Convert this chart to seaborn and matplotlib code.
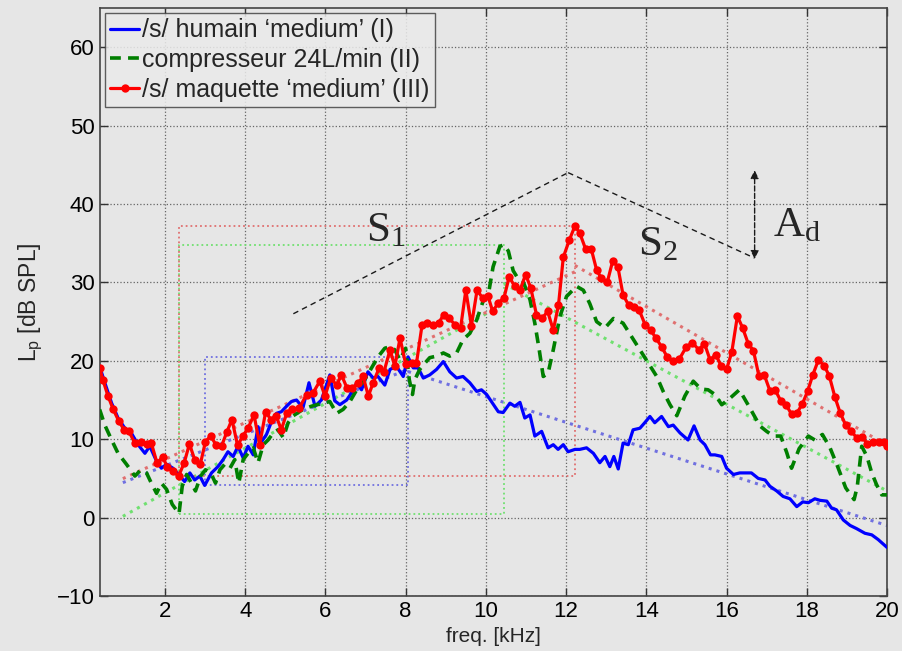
import numpy as np
import pandas as pd
import matplotlib
matplotlib.use("Agg")
import matplotlib.pyplot as plt
import seaborn as sns

sns.set_theme(style="whitegrid")
plt.rcParams["font.family"] = ["Liberation Sans", "DejaVu Sans"]

# ------------------------------
# Data (freq in kHz, level in dB SPL)
# ------------------------------
red_freq = [0.37, 0.45, 0.58, 0.71, 0.85, 0.98, 1.10, 1.25, 1.39, 1.54,
            1.66, 1.80, 1.94, 2.06, 2.20, 2.34, 2.48, 2.61, 2.74, 2.88,
            3.01, 3.14, 3.27, 3.41, 3.54, 3.67, 3.81, 3.94, 4.07, 4.22,
            4.36, 4.51, 4.64, 4.77, 4.90, 5.04, 5.17, 5.35, 5.53, 5.69,
            5.86, 5.99, 6.13, 6.28, 6.40, 6.54, 6.67, 6.82, 6.94, 7.07,
            7.19, 7.34, 7.46, 7.61, 7.73, 7.86, 8.00, 8.15, 8.27, 8.41,
            8.54, 8.69, 8.82, 8.95, 9.09, 9.23, 9.37, 9.50, 9.64, 9.78,
            9.92, 10.05, 10.17, 10.31, 10.45, 10.58, 10.72, 10.85, 10.99, 11.12,
            11.26, 11.40, 11.54, 11.68, 11.81, 11.93, 12.08, 12.22, 12.34, 12.49,
            12.63, 12.76, 12.88, 13.03, 13.16, 13.29, 13.42, 13.56, 13.69, 13.82,
            13.97, 14.11, 14.24, 14.38, 14.52, 14.66, 14.82, 15.00, 15.15, 15.31,
            15.45, 15.59, 15.73, 15.86, 16.00, 16.13, 16.27, 16.40, 16.54, 16.67,
            16.81, 16.94, 17.08, 17.21, 17.35, 17.48, 17.62, 17.75, 17.89, 18.02,
            18.15, 18.29, 18.43, 18.56, 18.70, 18.83, 18.97, 19.10, 19.24, 19.38,
            19.51, 19.66, 19.79, 19.92, 20.0]
red_db = [19.1, 17.6, 15.5, 13.8, 12.3, 11.2, 11.0, 9.5, 9.7, 9.4,
          9.5, 7.0, 7.7, 6.5, 5.9, 5.3, 7.0, 9.4, 7.4, 6.8,
          9.7, 10.4, 9.3, 9.1, 10.9, 12.5, 9.2, 10.4, 11.4, 13.1,
          9.3, 13.5, 12.5, 13.0, 11.2, 13.4, 13.8, 14.0, 15.7, 15.9,
          17.4, 15.5, 17.8, 16.9, 18.2, 16.5, 16.5, 17.2, 18.0, 15.5,
          17.2, 19.1, 18.6, 21.4, 19.3, 22.9, 19.6, 19.7, 19.7, 24.6,
          24.8, 24.6, 24.8, 25.9, 25.4, 24.6, 24.2, 29.0, 24.5, 29.0,
          28.0, 28.3, 26.3, 27.4, 28.0, 30.7, 29.5, 29.0, 31.0, 29.3,
          25.9, 25.4, 26.3, 23.9, 27.1, 33.2, 35.4, 37.2, 36.3, 34.2,
          34.2, 31.6, 30.5, 30.1, 32.7, 32.0, 28.4, 27.1, 26.9, 26.5,
          24.6, 23.9, 22.9, 21.8, 20.5, 20.0, 20.2, 21.8, 22.3, 21.4,
          22.2, 20.1, 20.8, 19.4, 18.9, 21.1, 25.7, 24.2, 22.2, 21.3,
          18.0, 18.2, 16.2, 16.3, 14.9, 14.4, 13.2, 13.3, 14.5, 16.1,
          18.2, 20.1, 19.4, 18.1, 15.4, 13.4, 11.8, 11.1, 10.2, 10.3,
          9.4, 9.7, 9.6, 9.7, 9.1]

blue_freq = [0.37, 0.50, 0.67, 0.83, 1.00, 1.16, 1.33, 1.50, 1.62, 1.79,
             1.91, 2.04, 2.20, 2.37, 2.49, 2.62, 2.74, 2.87, 2.99, 3.16,
             3.32, 3.45, 3.57, 3.70, 3.82, 3.95, 4.07, 4.20, 4.32, 4.41,
             4.53, 4.66, 4.78, 4.90, 5.03, 5.15, 5.28, 5.44, 5.59, 5.74,
             5.90, 6.11, 6.23, 6.36, 6.53, 6.65, 6.78, 6.90, 7.06, 7.19,
             7.31, 7.48, 7.61, 7.77, 7.94, 8.06, 8.19, 8.31, 8.44, 8.60,
             8.77, 8.94, 9.10, 9.27, 9.43, 9.60, 9.77, 9.89, 10.02, 10.14,
             10.31, 10.43, 10.60, 10.72, 10.85, 10.97, 11.10, 11.22, 11.39, 11.55,
             11.68, 11.80, 11.93, 12.05, 12.22, 12.34, 12.51, 12.68, 12.84, 12.97,
             13.09, 13.19, 13.30, 13.42, 13.55, 13.67, 13.84, 13.96, 14.09, 14.21,
             14.38, 14.55, 14.67, 14.84, 15.04, 15.19, 15.34, 15.46, 15.60, 15.71,
             15.88, 16.00, 16.17, 16.33, 16.50, 16.62, 16.79, 16.96, 17.08, 17.25,
             17.41, 17.58, 17.75, 17.90, 18.04, 18.20, 18.33, 18.50, 18.62, 18.74,
             18.91, 19.08, 19.24, 19.45, 19.62, 19.78, 20.0]
blue_db = [19.3, 17.2, 14.6, 12.7, 11.4, 10.8, 9.3, 8.2, 9.1, 7.2,
           6.3, 6.8, 6.3, 5.3, 4.6, 5.7, 4.8, 5.3, 4.1, 5.7,
           6.5, 7.4, 8.4, 7.8, 9.1, 7.6, 9.1, 8.0, 11.6, 9.7,
           10.6, 12.3, 13.3, 13.5, 14.2, 14.8, 15.0, 14.0, 17.2, 14.2,
           15.0, 18.2, 14.9, 14.4, 15.0, 15.9, 17.2, 16.3, 18.6, 17.8,
           18.0, 16.9, 18.9, 19.3, 18.0, 20.5, 19.1, 19.1, 17.8, 18.2,
           18.9, 19.9, 18.6, 17.8, 18.0, 17.2, 16.1, 16.3, 15.7, 14.8,
           13.5, 13.4, 14.6, 14.2, 14.7, 12.7, 13.1, 10.4, 11.0, 8.9,
           9.3, 8.7, 9.3, 8.4, 8.7, 8.7, 8.9, 8.2, 7.0, 7.8,
           6.5, 7.8, 6.2, 9.5, 9.3, 11.2, 11.4, 12.1, 12.9, 12.1,
           12.9, 11.6, 11.8, 10.8, 9.9, 11.7, 9.9, 9.3, 8.0, 8.0,
           7.8, 6.3, 5.5, 5.7, 5.7, 5.7, 5.0, 4.8, 4.0, 3.4,
           2.7, 2.4, 1.4, 2.0, 1.9, 2.4, 2.2, 2.1, 1.2, 1.0,
           -0.3, -1.0, -1.4, -2.0, -2.2, -2.8, -3.8]

green_freq = [0.37, 0.50, 0.67, 0.83, 1.04, 1.25, 1.40, 1.54, 1.66, 1.79,
              1.91, 2.04, 2.18, 2.35, 2.43, 2.54, 2.66, 2.76, 2.89, 3.01,
              3.14, 3.26, 3.37, 3.49, 3.62, 3.74, 3.84, 3.95, 4.07, 4.20,
              4.32, 4.45, 4.57, 4.70, 4.82, 4.95, 5.07, 5.20, 5.44, 5.65,
              5.94, 6.11, 6.28, 6.44, 6.61, 6.78, 6.98, 7.15, 7.31, 7.48,
              7.61, 7.73, 7.86, 8.00, 8.09, 8.17, 8.23, 8.35, 8.48, 8.60,
              8.77, 8.94, 9.10, 9.27, 9.43, 9.60, 9.77, 9.93, 10.06, 10.18,
              10.35, 10.45, 10.56, 10.68, 10.80, 10.93, 11.10, 11.22, 11.33, 11.43,
              11.55, 11.68, 11.85, 12.01, 12.26, 12.43, 12.59, 12.76, 12.97, 13.18,
              13.42, 13.63, 13.84, 14.05, 14.26, 14.42, 14.59, 14.76, 14.96, 15.17,
              15.36, 15.54, 15.71, 15.88, 16.08, 16.32, 16.58, 16.83, 17.00, 17.17,
              17.35, 17.50, 17.62, 17.81, 18.04, 18.20, 18.39, 18.58, 18.77, 18.97,
              19.18, 19.26, 19.37, 19.50, 19.62, 19.74, 19.87, 20.0]
green_db = [13.8, 11.8, 9.9, 8.2, 6.8, 5.3, 6.1, 5.7, 4.4, 3.1,
            4.4, 3.6, 1.7, 0.5, 4.0, 5.5, 4.4, 3.4, 5.3, 6.1,
            5.7, 4.4, 6.1, 6.8, 6.3, 7.4, 4.4, 7.4, 8.2, 8.9,
            7.0, 9.3, 9.9, 10.8, 11.2, 10.2, 12.1, 13.0, 13.8, 14.2,
            14.6, 14.8, 13.3, 13.8, 14.8, 16.3, 17.6, 19.1, 20.5, 21.6,
            21.8, 21.4, 20.1, 21.6, 17.6, 15.7, 17.6, 18.9, 19.7, 20.4,
            20.6, 21.0, 20.6, 21.0, 22.7, 23.5, 25.2, 27.6, 28.4, 32.0,
            34.6, 34.8, 34.0, 31.5, 30.5, 30.1, 27.8, 24.8, 21.4, 18.0,
            18.4, 21.4, 25.7, 28.2, 29.5, 29.0, 27.3, 25.0, 24.2, 25.4,
            24.8, 23.1, 21.4, 19.7, 18.0, 16.1, 14.4, 13.0, 15.5, 17.4,
            16.4, 16.3, 15.7, 14.4, 15.2, 16.3, 14.0, 11.7, 11.0, 10.4,
            10.4, 8.3, 6.3, 8.8, 10.4, 9.9, 10.6, 8.9, 6.5, 3.8,
            2.3, 4.0, 9.1, 7.8, 5.7, 4.2, 2.9, 2.9]

labels = ["/s/ humain \u2018medium\u2019 (I)",
          "compresseur 24L/min (II)",
          "/s/ maquette \u2018medium\u2019 (III)"]
colors = ["#0000ff", "#007f00", "#ff0000"]
fit_colors = ["#7070e0", "#70e070", "#e07070"]

x_ticks = list(range(2, 21, 2))
y_ticks = list(range(-10, 61, 10))

series = [
    pd.DataFrame({"freq": blue_freq, "db": blue_db}),
    pd.DataFrame({"freq": green_freq, "db": green_db}),
    pd.DataFrame({"freq": red_freq, "db": red_db}),
]

bg = "#e6e6e6"
fig = plt.figure(figsize=(9.03, 6.51), dpi=100, facecolor=bg)
ax = fig.add_axes([100 / 903, 55 / 651, 787 / 903, 588 / 651])
ax.set_facecolor(bg)


# ------------------------------
# Fits and bounding boxes (min before peak -> peak)
# ------------------------------
def fit_segment(df, lo, hi):
    m = (df["freq"] >= lo) & (df["freq"] <= hi)
    p = np.polyfit(df["freq"][m], df["db"][m], 1)
    xs = np.array([lo, hi])
    return xs, np.polyval(p, xs)


for df, fc in zip(series, fit_colors):
    above = df[df["freq"] > 2]
    i_pk = above["db"].idxmax()
    f_pk, y_pk = df.loc[i_pk, "freq"], df.loc[i_pk, "db"]
    before = df[(df["freq"] >= 1.5) & (df["freq"] <= f_pk)]
    i_mn = before["db"].idxmin()
    f_mn, y_mn = df.loc[i_mn, "freq"], df.loc[i_mn, "db"]

    ax.plot([f_mn, f_pk, f_pk, f_mn, f_mn], [y_mn, y_mn, y_pk, y_pk, y_mn],
            ls=":", lw=1.3, color=fc, zorder=2)
    xs, ys = fit_segment(df, 0.95, f_pk)
    ax.plot(xs, ys, ls=":", lw=2.2, color=fc, zorder=2)
    xs, ys = fit_segment(df, f_pk, 20)
    ax.plot(xs, ys, ls=":", lw=2.2, color=fc, zorder=2)

# ------------------------------
# Main curves
# ------------------------------
sns.lineplot(data=series[0], x="freq", y="db", ax=ax, color=colors[0],
             lw=2.3, sort=False, estimator=None, zorder=4)
sns.lineplot(data=series[1], x="freq", y="db", ax=ax, color=colors[1],
             lw=2.6, sort=False, estimator=None, zorder=4, dashes=False)
ax.lines[-1].set_dashes([3, 2])
sns.lineplot(data=series[2], x="freq", y="db", ax=ax, color=colors[2],
             lw=2.3, sort=False, estimator=None, zorder=5,
             marker="o", markersize=6, markeredgewidth=0)

curve_lines = ax.lines[-3:]
for ln, lab in zip(curve_lines, labels):
    ln.set_label(lab)

# ------------------------------
# Schematic annotations
# ------------------------------
s1_x, s1_y = [5.2, 12.05], [26.0, 44.0]
s2_x, s2_y = [12.05, 16.7], [44.0, 33.1]
ax.plot(s1_x, s1_y, ls="--", color="k", lw=1, dashes=(4, 3), zorder=3)
ax.plot(s2_x, s2_y, ls="--", color="k", lw=1, dashes=(4, 3), zorder=3)
ax.annotate("", xy=(16.7, 44.3), xytext=(16.7, 33.0),
            arrowprops=dict(arrowstyle="<|-|>", color="k", lw=1, ls="--",
                            shrinkA=0, shrinkB=0, mutation_scale=12))
serif = ["Liberation Serif", "DejaVu Serif"]
ax.text(7.0, 35.2, r"$\mathregular{S_1}$", fontsize=31, family=serif)
ax.text(13.8, 33.4, r"$\mathregular{S_2}$", fontsize=31, family=serif)
ax.text(17.15, 35.9, r"$\mathregular{A_d}$", fontsize=31, family=serif)

# ------------------------------
# Axes styling (MATLAB-like)
# ------------------------------
ax.set_xlim(0.38, 20)
ax.set_ylim(-10, 65)
ax.set_xticks(x_ticks)
ax.set_yticks(y_ticks)
ax.set_xticklabels([str(t) for t in x_ticks])
ax.set_yticklabels(["\u221210" if t < 0 else str(t) for t in y_ticks])
ax.tick_params(direction="in", length=6, width=1, colors="#333333",
               labelcolor="black", labelsize=16, top=True, right=True,
               bottom=True, left=True)
ax.tick_params(axis="x", pad=3.5)
ax.tick_params(axis="y", pad=4)
ax.grid(True, ls=":", lw=0.9, color="#666666")
for s in ax.spines.values():
    s.set_color("#444444")
    s.set_linewidth(1.2)

ax.set_xlabel("freq. [kHz]", fontsize=15)
ax.xaxis.set_label_coords(0.5, -0.053)
ax.set_ylabel(r"$\mathregular{L_p}$ [dB SPL]", fontsize=16.5, labelpad=8)

leg = ax.legend(handles=curve_lines, loc="upper left", fontsize=18,
                frameon=True, fancybox=False, borderaxespad=0.2,
                handlelength=1.15, handletextpad=0.12, labelspacing=0.22,
                borderpad=0.22)
leg.get_frame().set_edgecolor("#444444")
leg.get_frame().set_facecolor("#eaeaea")
leg.get_frame().set_alpha(0.85)
leg.get_frame().set_linewidth(1)

fig.savefig("out.png", dpi=100, facecolor=bg)
